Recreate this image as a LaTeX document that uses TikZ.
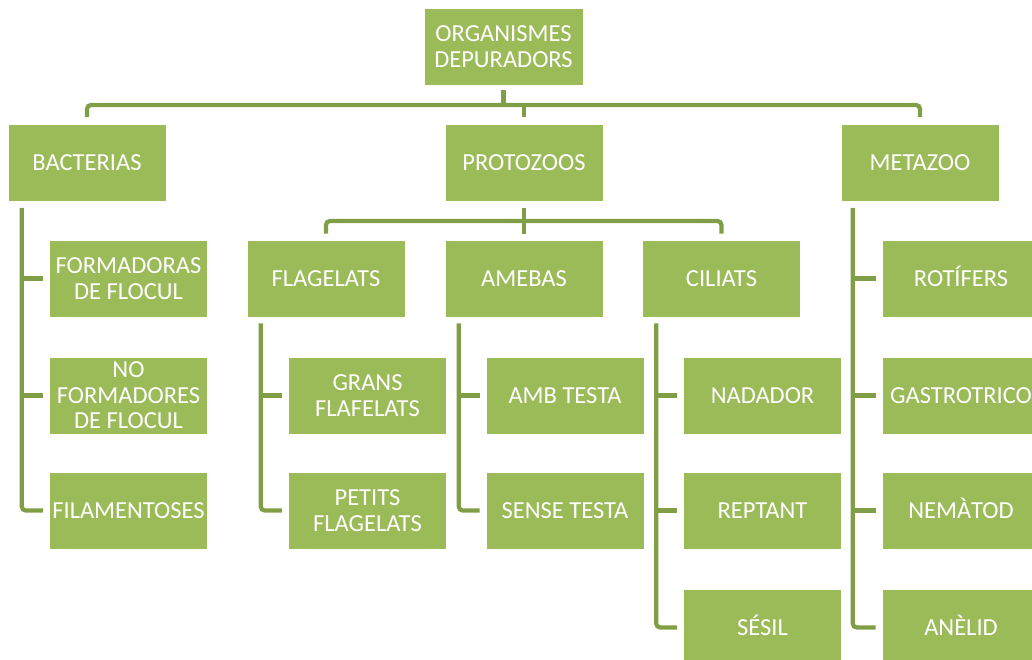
\documentclass[tikz,border=0pt]{standalone}
\usepackage{fontspec}
\setmainfont{Carlito}
\usetikzlibrary{calc}
\definecolor{boxgreen}{HTML}{9BBB59}
\definecolor{linegreen}{RGB}{128,158,70}
\tikzset{
  box/.style={fill=boxgreen, draw=white, line width=0.6pt, text=white,
    minimum width=158pt, minimum height=77pt, inner sep=0pt, align=center,
    font=\fontsize{24.5}{25.5}\selectfont},
  conn/.style={draw=linegreen, line width=4.2pt, rounded corners=4pt}
}
\begin{document}
\begin{tikzpicture}[x=1pt,y=-1pt]
\useasboundingbox (0,0) rectangle (1032,660);
\clip (0,0) rectangle (1032,660);
% root
\node[box, minimum width=159pt] (root) at (503.5,46.5) {ORGANISMES\\DEPURADORS};
% level 1
\node[box] (bact) at (87,163) {BACTERIAS};
\node[box] (prot) at (524,163) {PROTOZOOS};
\node[box] (meta) at (920,163) {METAZOO};
% level 2 protozoos
\node[box] (flag) at (326,278.5) {FLAGELATS};
\node[box] (ameb) at (524,278.5) {AMEBAS};
\node[box] (cili) at (721.5,278.5) {CILIATS};
% bacteria children
\node[box] (b1) at (128.5,278.5) {FORMADORAS\\DE FLOCUL};
\node[box] (b2) at (128.5,395.5) {NO\\FORMADORES\\DE FLOCUL};
\node[box] (b3) at (128.5,510.5) {FILAMENTOSES};
% flagelats children
\node[box] (f1) at (367.5,395.5) {GRANS\\FLAFELATS};
\node[box] (f2) at (367.5,510.5) {PETITS\\FLAGELATS};
% amebas children
\node[box] (a1) at (565,395.5) {AMB TESTA};
\node[box] (a2) at (565,510.5) {SENSE TESTA};
% ciliats children
\node[box] (c1) at (762.5,395.5) {NADADOR};
\node[box] (c2) at (762.5,510.5) {REPTANT};
\node[box] (c3) at (762.5,627.5) {S\smash{É}SIL};
% metazoo children
\node[box] (m1) at (961,278.5) {ROT\smash{Í}FERS};
\node[box] (m2) at (961,395.5) {GASTROTRICO};
\node[box] (m3) at (961,510.5) {NEM\smash{À}TOD};
\node[box] (m4) at (961,627.5) {AN\smash{È}LID};

% top level connectors
\coordinate (top) at (503.5,105);
\draw[conn] ($(root.south)+(0,5)$) -- (top);
\draw[conn] ($(bact.north)+(0,-7)$) |- (top) -| ($(meta.north)+(0,-7)$);
\draw[conn] (top -| prot.north) -- ($(prot.north)+(0,-7)$);

% protozoos connectors
\coordinate (mid) at (524,221);
\draw[conn] ($(prot.south)+(0,6)$) -- (mid);
\draw[conn] ($(flag.north)+(0,-6)$) |- (mid) -| ($(cili.north)+(0,-6)$);
\draw[conn] (mid -| ameb.north) -- ($(ameb.north)+(0,-6)$);

% bacteria bar
\coordinate (bb) at ($(bact.south west)+(14,6)$);
\draw[conn] (bb) |- ($(b3.west)+(-6,0)$);
\draw[conn] (bb |- b1.west) -- ($(b1.west)+(-6,0)$);
\draw[conn] (bb |- b2.west) -- ($(b2.west)+(-6,0)$);

% flagelats bar
\coordinate (fb) at ($(flag.south west)+(14,6)$);
\draw[conn] (fb) |- ($(f2.west)+(-6,0)$);
\draw[conn] (fb |- f1.west) -- ($(f1.west)+(-6,0)$);

% amebas bar
\coordinate (ab) at ($(ameb.south west)+(14,6)$);
\draw[conn] (ab) |- ($(a2.west)+(-6,0)$);
\draw[conn] (ab |- a1.west) -- ($(a1.west)+(-6,0)$);

% ciliats bar
\coordinate (cb) at ($(cili.south west)+(14,6)$);
\draw[conn] (cb) |- ($(c3.west)+(-6,0)$);
\draw[conn] (cb |- c1.west) -- ($(c1.west)+(-6,0)$);
\draw[conn] (cb |- c2.west) -- ($(c2.west)+(-6,0)$);

% metazoo bar
\coordinate (mb) at ($(meta.south west)+(12,6)$);
\draw[conn] (mb) |- ($(m4.west)+(-6,0)$);
\draw[conn] (mb |- m1.west) -- ($(m1.west)+(-6,0)$);
\draw[conn] (mb |- m2.west) -- ($(m2.west)+(-6,0)$);
\draw[conn] (mb |- m3.west) -- ($(m3.west)+(-6,0)$);
\end{tikzpicture}
\end{document}
